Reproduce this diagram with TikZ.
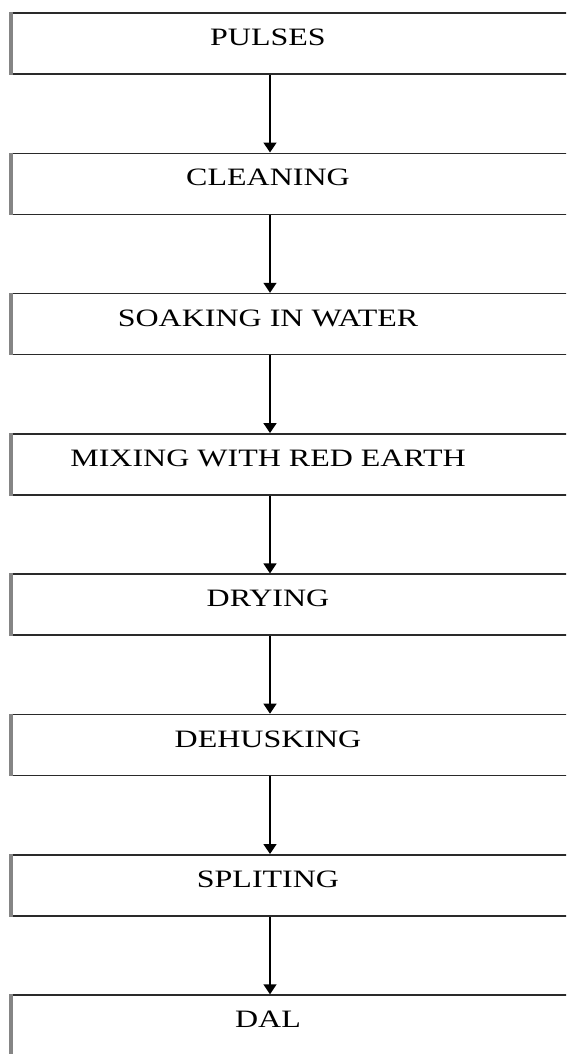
\documentclass[tikz,border=0pt]{standalone}
\usepackage{fontspec}
\setmainfont{Liberation Serif}
\newfontfamily\wideserif[FakeStretch=1.28]{Liberation Serif}
\usetikzlibrary{arrows.meta}
\definecolor{edgedark}{HTML}{2A2A2A}
\definecolor{edgegray}{HTML}{858585}
\tikzset{
  stepbox/.style={draw=edgedark, line width=1.6pt, fill=white,
    minimum width=560pt, minimum height=61pt, inner sep=0pt,
    text height=18pt, text depth=14pt,
    font=\wideserif\fontsize{25pt}{25pt}\selectfont,
    execute at end node={\hspace*{44pt}}},
  leftedge/.style={draw=edgegray, line width=4pt},
  flow/.style={draw=black, line width=1.5pt,
    -{Triangle[width=13pt,length=10pt]}}
}
\begin{document}
\begin{tikzpicture}[x=1pt,y=1pt]
\useasboundingbox (0,0) rectangle (566,-1054);
\clip (0,0) rectangle (566,-1054);
\fill[white] (0,0) rectangle (566,-1054);
\foreach \n/\t [count=\i from 0] in {b1/PULSES,b2/CLEANING,b3/SOAKING IN WATER,b4/MIXING WITH RED EARTH,b5/DRYING,b6/DEHUSKING,b7/SPLITING,b8/DAL}{
  \node[stepbox] (\n) at (290,{-43.5-140.3*\i}) {\t};
  \draw[leftedge] ([xshift=2pt]\n.north west) -- ([xshift=2pt]\n.south west);
}
\foreach \a/\b in {b1/b2,b2/b3,b3/b4,b4/b5,b5/b6,b6/b7,b7/b8}{
  \draw[flow] ([xshift=-20pt]\a.south) -- ([xshift=-20pt]\b.north);
}
\end{tikzpicture}
\end{document}
